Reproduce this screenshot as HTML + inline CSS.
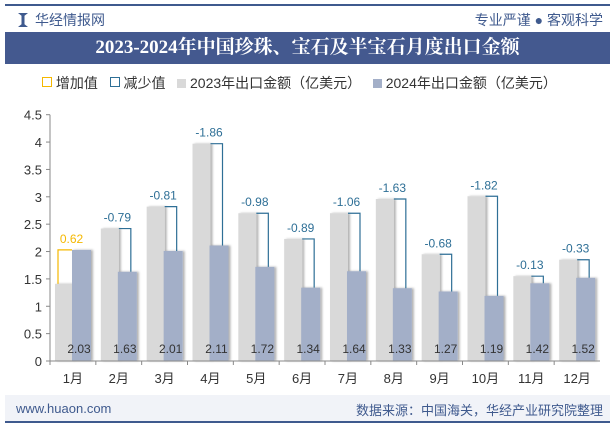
<!DOCTYPE html>
<html><head><meta charset="utf-8"><style>
body{margin:0;width:615px;height:427px;background:#fff;font-family:"Liberation Sans","Noto Sans CJK SC",sans-serif;overflow:hidden;position:relative}
.t{position:absolute;white-space:nowrap}
</style></head><body>
<div style="position:absolute;left:5px;top:4px;width:605px;height:2px;background:#3f5a8e"></div>
<div style="position:absolute;left:18px;top:13px;width:10px;height:14px;background:#3f5a8e;clip-path:polygon(0 0,35% 20%,35% 80%,0 100%,100% 100%,65% 80%,65% 20%,100% 0)"></div>
<div class="t" style="left:35px;top:10px;font-size:14px;color:#3f5a8e">华经情报网</div>
<div class="t" style="right:12px;top:10px;font-size:14px;color:#3f5a8e">专业严谨 ● 客观科学</div>
<div style="position:absolute;left:5px;top:32px;width:605px;height:32px;background:#44598f;color:#fff;font-family:'Liberation Serif','Noto Serif CJK SC',serif;font-weight:bold;font-size:19px;text-align:center;line-height:32px">2023-2024年中国珍珠、宝石及半宝石月度出口金额</div>
<div class="t" style="left:42px;top:73px;font-size:14px;color:#333">
<span><span style="display:inline-block;width:8px;height:8px;border:1.5px solid #f5b800;vertical-align:1px"></span> 增加值</span>&nbsp;&nbsp;
<span><span style="display:inline-block;width:8px;height:8px;border:1.5px solid #2e6f96;vertical-align:1px"></span> 减少值</span>&nbsp;&nbsp;
<span><span style="display:inline-block;width:9px;height:9px;background:#d9d9d9"></span> 2023年出口金额（亿美元）</span>&nbsp;&nbsp;
<span><span style="display:inline-block;width:9px;height:9px;background:#a3afc8"></span> 2024年出口金额（亿美元）</span>
</div>
<svg id="chart" width="615" height="427" style="position:absolute;left:0;top:0"></svg>
<div style="position:absolute;left:5px;top:395px;width:605px;height:28px;background:#f1f3f8"></div>
<div style="position:absolute;left:5px;top:421px;width:605px;height:2px;background:#3f5a8e"></div>
<div class="t" style="left:16px;top:401px;font-size:13px;color:#3f5a8e">www.huaon.com</div>
<div class="t" style="right:12px;top:400px;font-size:13px;color:#3f5a8e">数据来源：中国海关，华经产业研究院整理</div>
<script>
const months=["1月","2月","3月","4月","5月","6月","7月","8月","9月","10月","11月","12月"];
const v2023=[1.41,2.42,2.82,3.97,2.70,2.23,2.70,2.96,1.95,3.01,1.55,1.85];
const v2024=[2.03,1.63,2.01,2.11,1.72,1.34,1.64,1.33,1.27,1.19,1.42,1.52];
const diffs=["0.62","-0.79","-0.81","-1.86","-0.98","-0.89","-1.06","-1.63","-0.68","-1.82","-0.13","-0.33"];
const yTicks=[0,0.5,1,1.5,2,2.5,3,3.5,4,4.5];
const svg=document.getElementById('chart');const NS='http://www.w3.org/2000/svg';
const x0=50,x1=600,y0=361,yTop=114.7,ymax=4.5;
const cw=(x1-x0)/months.length;
const Y=v=>y0-(v/ymax)*(y0-yTop);
const X=i=>x0+i*cw;
function el(t,a,p){const e=document.createElementNS(NS,t);for(const k in a)e.setAttribute(k,a[k]);(p||svg).appendChild(e);return e;}
const defs=el('defs',{});const f=el('filter',{id:'sh',x:'-20%',y:'-5%',width:'150%',height:'110%'},defs);
el('feDropShadow',{dx:'2',dy:'0',stdDeviation:'1',"flood-color":'#000',"flood-opacity":'0.3'},f);
yTicks.forEach(v=>{
 const t=el('text',{x:x0-8,y:Y(v)+5,"text-anchor":'end',"font-size":'13',fill:'#333'});t.textContent=v;
 
 const l=el('line',{x1:x0-4,x2:x0,y1:Y(v),y2:Y(v),stroke:'#888'});
 
});
months.forEach((m,i)=>{
 const cs=X(i),gx=cs+5,bx=cs+22,bw=18;
 const g=el('rect',{x:gx,y:Y(v2023[i]),width:bw,height:y0-Y(v2023[i]),fill:'#d9d9d9',filter:'url(#sh)'});
 
 const b=el('rect',{x:bx,y:Y(v2024[i]),width:bw+1,height:y0-Y(v2024[i]),fill:'#a3afc8',filter:'url(#sh)'});
 
 const inc=v2024[i]>=v2023[i];const col=inc?'#f5b800':'#2e6f96';
 const top=Math.min(Y(v2023[i]),Y(v2024[i]));
 const lx=gx+3,rx=bx+13;
 let pts=inc?`${lx},${Y(v2023[i])} ${lx},${top} ${bx},${top}`:`${gx+bw},${top} ${rx},${top} ${rx},${Y(v2024[i])}`;
 const p=el('polyline',{points:pts,fill:'none',stroke:col,"stroke-width":'1.2'});
 
 const dt=el('text',{x:(lx+rx)/2,y:top-7,"text-anchor":'middle',"font-size":'12',fill:col});dt.textContent=diffs[i];
 
 const vt=el('text',{x:bx+bw/2-2,y:y0-8,"text-anchor":'middle',"font-size":'12',fill:'#333'});vt.textContent=v2024[i].toFixed(2);
 
 const mt=el('text',{x:cs+cw/2,y:y0+22,"text-anchor":'middle',"font-size":'13',fill:'#333'});mt.textContent=m;
 
 const tk=el('line',{x1:cs,x2:cs,y1:y0,y2:y0+4,stroke:'#888'});
 
});
const ya=el('line',{x1:x0,x2:x0,y1:yTop,y2:y0,stroke:'#888'});
const xa=el('line',{x1:x0-4,x2:x1,y1:y0,y2:y0,stroke:'#888'});
</script>
</body></html>
